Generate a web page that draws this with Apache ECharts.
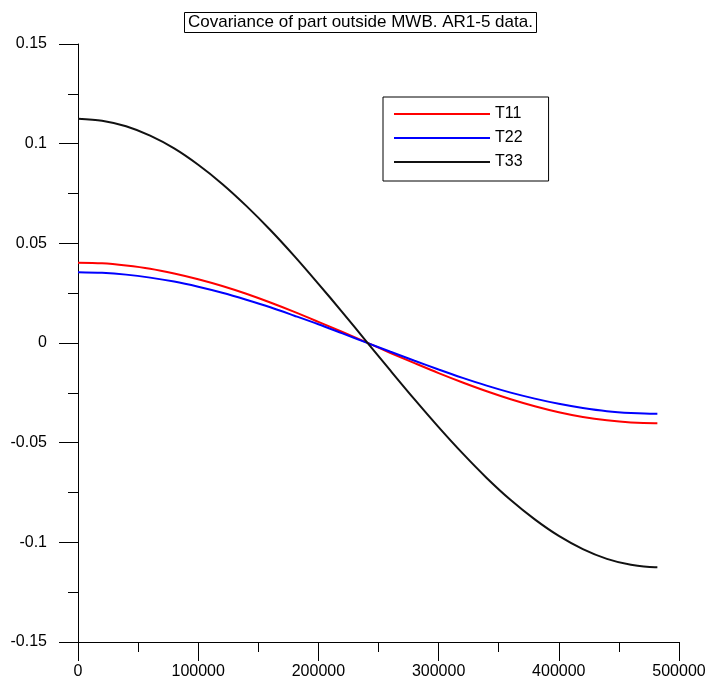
<!DOCTYPE html>
<html>
<head>
<meta charset="utf-8">
<script src="https://cdn.jsdelivr.net/npm/echarts@6/dist/echarts.min.js"></script>
<style>
html,body{margin:0;padding:0;background:#fff;}
#chart{width:709px;height:689px;}
</style>
</head>
<body>
<div id="chart"></div>
<script>
var xValues = [0,20000,40000,60000,80000,100000,120000,140000,160000,180000,200000,220000,240000,260000,280000,300000,320000,340000,360000,380000,400000,420000,440000,460000,480000,482000];
var t11 = [0.0403,0.0400,0.0389,0.0373,0.0349,0.0320,0.0286,0.0247,0.0203,0.0156,0.0106,0.0055,0.0003,-0.0050,-0.0101,-0.0151,-0.0198,-0.0242,-0.0282,-0.0317,-0.0347,-0.0371,-0.0388,-0.0399,-0.0403,-0.0403];
var t22 = [0.0355,0.0352,0.0343,0.0328,0.0308,0.0282,0.0252,0.0217,0.0179,0.0137,0.0094,0.0048,0.0002,-0.0044,-0.0089,-0.0133,-0.0175,-0.0214,-0.0249,-0.0279,-0.0305,-0.0326,-0.0342,-0.0351,-0.0355,-0.0355];
var t33 = [0.1125,0.1115,0.1087,0.1040,0.0976,0.0894,0.0798,0.0688,0.0567,0.0436,0.0297,0.0154,0.0007,-0.0139,-0.0283,-0.0422,-0.0554,-0.0677,-0.0788,-0.0885,-0.0968,-0.1034,-0.1083,-0.1113,-0.1125,-0.1125];
var seriesNames = ['T11','T22','T33'];
var seriesColors = ['#ff0000','#0000ff','#111111'];
var titleText = 'Covariance of part outside MWB. AR1-5 data.';

function pairs(ys){ return xValues.map(function(x,i){ return [x, ys[i]]; }); }
var allData = [t11, t22, t33];
var FONT = '"Liberation Sans", Arial, sans-serif';

var chart = echarts.init(document.getElementById('chart'), null, {renderer:'canvas'});
chart.setOption({
  animation: false,
  backgroundColor: '#ffffff',
  title: {
    text: titleText,
    left: 184, top: 12,
    padding: [2, 4, 2, 4],
    borderColor: '#000', borderWidth: 1,
    textStyle: {fontFamily: FONT, fontSize: 17, fontWeight: 'normal', color: '#000'}
  },
  legend: {
    orient: 'vertical',
    left: 383, top: 97,
    padding: [9, 26, 11, 11],
    itemGap: 8,
    itemWidth: 96, itemHeight: 2,
    icon: 'rect',
    borderColor: '#000', borderWidth: 1,
    textStyle: {fontFamily: FONT, fontSize: 16, lineHeight: 16, color: '#000'},
    data: seriesNames
  },
  grid: {left: 78, right: 30, top: 44, bottom: 47, containLabel: false},
  xAxis: {
    type: 'value', min: 0, max: 500000, interval: 100000,
    axisLine: {show: true, onZero: false, lineStyle: {color: '#000', width: 1}},
    axisTick: {show: true, length: 19, lineStyle: {color: '#000'}},
    minorTick: {show: true, splitNumber: 2, length: 10, lineStyle: {color: '#000'}},
    splitLine: {show: false},
    axisLabel: {margin: 22, fontFamily: FONT, fontSize: 16, color: '#000', formatter: function(v){ return String(v); }}
  },
  yAxis: {
    type: 'value', min: -0.15, max: 0.15, interval: 0.05,
    axisLine: {show: true, onZero: false, lineStyle: {color: '#000', width: 1}},
    axisTick: {show: true, length: 19, lineStyle: {color: '#000'}},
    minorTick: {show: true, splitNumber: 2, length: 10, lineStyle: {color: '#000'}},
    splitLine: {show: false},
    axisLabel: {margin: 31, fontFamily: FONT, fontSize: 16, color: '#000'}
  },
  series: seriesNames.map(function(n, i){
    return {
      name: n, type: 'line', data: pairs(allData[i]),
      symbol: 'none', smooth: 0.3,
      lineStyle: {color: seriesColors[i], width: 2},
      itemStyle: {color: seriesColors[i]}
    };
  })
});
</script>
</body>
</html>
